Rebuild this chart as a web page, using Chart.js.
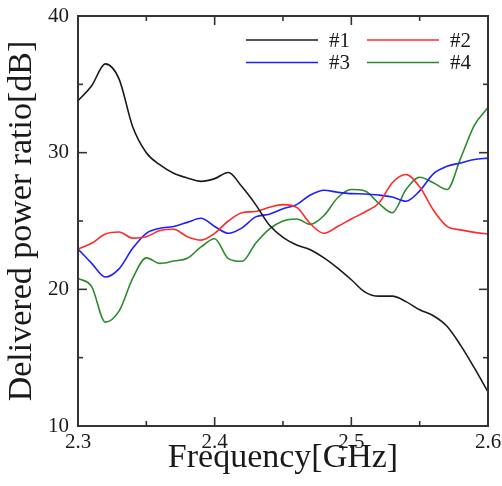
<!DOCTYPE html>
<html>
<head>
<meta charset="utf-8">
<script src="https://cdn.jsdelivr.net/npm/chart.js@4/dist/chart.umd.min.js"></script>
<style>
  html, body { margin: 0; padding: 0; background: #ffffff; }
  #wrap { width: 502px; height: 486px; }
</style>
</head>
<body>
<div id="wrap"><canvas id="c" width="502" height="486"></canvas></div>
<script>
// Frequency samples [GHz]
const freq = [2.30, 2.31, 2.32, 2.33, 2.34, 2.35, 2.36, 2.37, 2.38, 2.39,
              2.40, 2.41, 2.42, 2.43, 2.44, 2.45, 2.46, 2.47, 2.48, 2.49,
              2.50, 2.51, 2.52, 2.53, 2.54, 2.55, 2.56, 2.57, 2.58, 2.59, 2.60];

// Delivered power ratio [dB] for each port
const port1 = [33.8, 34.9, 36.5, 35.4, 31.9, 30.0, 29.1, 28.5, 28.15, 27.9,
               28.1, 28.55, 27.5, 26.2, 24.7, 23.8, 23.25, 22.9, 22.3, 21.55,
               20.7, 19.8, 19.5, 19.5, 19.1, 18.5, 18.07, 17.3, 15.9, 14.25, 12.5];
const port2 = [22.95, 23.37, 24.05, 24.2, 23.75, 23.85, 24.3, 24.4, 23.85, 23.6,
               24.1, 25.0, 25.6, 25.7, 26.0, 26.2, 26.0, 24.8, 24.1, 24.6,
               25.15, 25.66, 26.3, 27.8, 28.4, 27.5, 25.8, 24.6, 24.35, 24.17, 24.05];
const port3 = [22.95, 21.9, 20.9, 21.5, 23.0, 24.1, 24.47, 24.6, 24.9, 25.2,
               24.6, 24.1, 24.5, 25.3, 25.5, 25.9, 26.2, 26.9, 27.25, 27.1,
               27.0, 26.98, 26.9, 26.75, 26.45, 27.2, 28.45, 29.0, 29.25, 29.5, 29.6];
const port4 = [20.8, 20.2, 17.6, 18.4, 20.8, 22.3, 21.9, 22.07, 22.27, 23.1,
               23.7, 22.25, 22.05, 23.37, 24.4, 25.0, 25.15, 24.75, 25.4, 26.7,
               27.3, 27.2, 26.3, 25.6, 27.3, 28.2, 27.8, 27.3, 29.6, 32.0, 33.3];

const seriesLabels = ['#1', '#2', '#3', '#4'];
const seriesColors = ['#1a1a1a', '#ff2a2a', '#1f1fff', '#2b8a2b'];

// Axis ticks: labelled (major) and unlabelled (minor)
const xMajor = [2.3, 2.4, 2.5, 2.6];
const xMinor = [2.35, 2.45, 2.55];
const yMajor = [10, 20, 30, 40];
const yMinor = [15, 25, 35];

const serif = "'Liberation Serif', 'Times New Roman', Times, serif";
const ink = '#1a1a1a';

function toPoints(values) {
  return values.map((v, i) => ({ x: freq[i], y: v }));
}

const datasets = [port1, port2, port3, port4].map((vals, i) => ({
  label: seriesLabels[i],
  data: toPoints(vals),
  borderColor: seriesColors[i],
  backgroundColor: seriesColors[i],
  borderWidth: 1.6,
  pointRadius: 0,
  cubicInterpolationMode: 'monotone',
  fill: false
}));

// Frame with inward ticks on all four sides, plus an in-plot legend
const framePlugin = {
  id: 'frameAndLegend',
  afterDatasetsDraw(chart) {
    const { ctx, chartArea: a, scales } = chart;
    const xs = scales.x, ys = scales.y;
    ctx.save();
    ctx.strokeStyle = '#333333';
    ctx.lineWidth = 1.6;
    ctx.lineCap = 'butt';
    const tick = (x1, y1, x2, y2) => {
      ctx.beginPath(); ctx.moveTo(x1, y1); ctx.lineTo(x2, y2); ctx.stroke();
    };
    const majorLen = 9, minorLen = 5;
    xMajor.forEach(v => {
      const px = xs.getPixelForValue(v);
      tick(px, a.bottom, px, a.bottom - majorLen);
      tick(px, a.top, px, a.top + majorLen);
    });
    xMinor.forEach(v => {
      const px = xs.getPixelForValue(v);
      tick(px, a.bottom, px, a.bottom - minorLen);
      tick(px, a.top, px, a.top + minorLen);
    });
    yMajor.forEach(v => {
      const py = ys.getPixelForValue(v);
      tick(a.left, py, a.left + majorLen, py);
      tick(a.right, py, a.right - majorLen, py);
    });
    yMinor.forEach(v => {
      const py = ys.getPixelForValue(v);
      tick(a.left, py, a.left + minorLen, py);
      tick(a.right, py, a.right - minorLen, py);
    });
    ctx.lineWidth = 2;
    ctx.strokeRect(a.left, a.top, a.right - a.left, a.bottom - a.top);

    // Legend: two columns, two rows, top-right inside the plot
    const colLineStart = [a.right - 242, a.right - 121];
    const lineLen = 72;
    const rowY = [a.top + 24, a.top + 46.5];
    ctx.font = '21px ' + serif;
    ctx.textBaseline = 'middle';
    ctx.textAlign = 'left';
    chart.data.datasets.forEach((ds, i) => {
      const col = i % 2, row = Math.floor(i / 2);
      const x0 = colLineStart[col], y0 = rowY[row];
      ctx.strokeStyle = ds.borderColor;
      ctx.lineWidth = 1.6;
      ctx.beginPath(); ctx.moveTo(x0, y0); ctx.lineTo(x0 + lineLen, y0); ctx.stroke();
      ctx.fillStyle = ink;
      ctx.fillText(ds.label, x0 + lineLen + 11, y0 + 1);
    });
    ctx.restore();
  }
};

new Chart(document.getElementById('c'), {
  type: 'line',
  data: { datasets },
  options: {
    responsive: false,
    animation: false,
    devicePixelRatio: 1,
    layout: { padding: { left: 0, right: 14, top: 16, bottom: 0 } },
    plugins: {
      legend: { display: false },
      tooltip: { enabled: false }
    },
    scales: {
      x: {
        type: 'linear',
        min: 2.3,
        max: 2.6,
        grid: { display: false, drawTicks: false },
        border: { display: false },
        afterBuildTicks(scale) { scale.ticks = xMajor.map(v => ({ value: v })); },
        afterFit(scale) { scale.height = 60; scale.paddingLeft = 0; scale.paddingRight = 0; },
        ticks: {
          padding: 4,
          maxRotation: 0,
          color: ink,
          font: { family: serif, size: 21 },
          callback: v => Number(v).toFixed(1)
        },
        title: {
          display: true,
          text: 'Frequency[GHz]',
          color: ink,
          font: { family: serif, size: 34 },
          padding: { top: 0, bottom: 8 }
        }
      },
      y: {
        type: 'linear',
        min: 10,
        max: 40,
        grid: { display: false, drawTicks: false },
        border: { display: false },
        afterBuildTicks(scale) { scale.ticks = yMajor.map(v => ({ value: v })); },
        afterFit(scale) { scale.width = 78; scale.paddingTop = 0; scale.paddingBottom = 0; },
        ticks: {
          padding: 9,
          color: ink,
          font: { family: serif, size: 21 },
          callback: v => String(v)
        },
        title: {
          display: true,
          text: 'Delivered power ratio[dB]',
          color: ink,
          font: { family: serif, size: 34 },
          padding: { top: 2, bottom: 0 }
        }
      }
    }
  },
  plugins: [framePlugin]
});
</script>
</body>
</html>
